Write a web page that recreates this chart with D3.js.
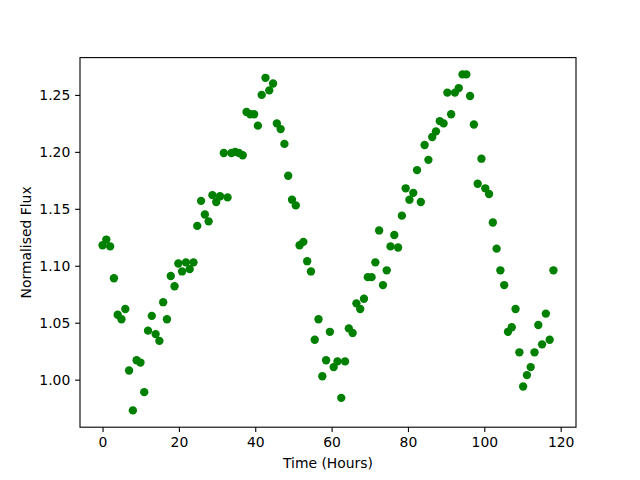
<!DOCTYPE html>
<html>
<head>
<meta charset="utf-8">
<script src="https://cdn.jsdelivr.net/npm/d3@7"></script>
<style>
  html, body { margin: 0; padding: 0; background: #fff; }
  svg text { font-family: "DejaVu Sans", sans-serif; }
</style>
</head>
<body>
<svg id="chart" width="640" height="480"></svg>
<script>
const timeHours = [
  0.00, 0.99, 1.99, 2.98, 3.97, 4.96, 5.96, 6.95, 7.94, 8.93,
  9.93, 10.92, 11.91, 12.90, 13.90, 14.89, 15.88, 16.87, 17.87, 18.86,
  19.85, 20.84, 21.84, 22.83, 23.82, 24.81, 25.81, 26.80, 27.79, 28.78,
  29.78, 30.77, 31.76, 32.75, 33.75, 34.74, 35.73, 36.72, 37.72, 38.71,
  39.70, 40.69, 41.69, 42.68, 43.67, 44.66, 45.66, 46.65, 47.64, 48.63,
  49.63, 50.62, 51.61, 52.60, 53.60, 54.59, 55.58, 56.57, 57.57, 58.56,
  59.55, 60.54, 61.54, 62.53, 63.52, 64.51, 65.51, 66.50, 67.49, 68.48,
  69.48, 70.47, 71.46, 72.45, 73.45, 74.44, 75.43, 76.42, 77.42, 78.41,
  79.40, 80.39, 81.39, 82.38, 83.37, 84.36, 85.36, 86.35, 87.34, 88.33,
  89.33, 90.32, 91.31, 92.30, 93.30, 94.29, 95.28, 96.27, 97.27, 98.26,
  99.25, 100.24, 101.24, 102.23, 103.22, 104.21, 105.21, 106.20, 107.19, 108.18,
  109.18, 110.17, 111.16, 112.15, 113.15, 114.14, 115.13, 116.12, 117.12, 118.11
];
const normalisedFlux = [
  1.118, 1.123, 1.117, 1.089, 1.057, 1.053, 1.062, 1.008, 0.973, 1.017,
  1.015, 0.989, 1.043, 1.056, 1.040, 1.034, 1.068, 1.053, 1.091, 1.082,
  1.102, 1.095, 1.103, 1.097, 1.103, 1.135, 1.157, 1.145, 1.139, 1.162,
  1.156, 1.161, 1.199, 1.160, 1.199, 1.200, 1.199, 1.197, 1.235, 1.233,
  1.233, 1.223, 1.250, 1.265, 1.254, 1.260, 1.225, 1.220, 1.207, 1.179,
  1.158, 1.153, 1.118, 1.121, 1.104, 1.095, 1.035, 1.053, 1.003, 1.017,
  1.042, 1.011, 1.016, 0.984, 1.016, 1.045, 1.041, 1.067, 1.062, 1.071,
  1.090, 1.090, 1.103, 1.131, 1.083, 1.096, 1.117, 1.127, 1.116, 1.144,
  1.168, 1.158, 1.164, 1.184, 1.156, 1.206, 1.193, 1.213, 1.218, 1.227,
  1.225, 1.252, 1.233, 1.252, 1.256, 1.268, 1.268, 1.249, 1.224, 1.172,
  1.194, 1.168, 1.163, 1.138, 1.115, 1.096, 1.083, 1.042, 1.046, 1.062,
  1.024, 0.994, 1.004, 1.011, 1.024, 1.048, 1.031, 1.058, 1.035, 1.096
];
const xTicks = [0, 20, 40, 60, 80, 100, 120];
const yTicks = [1.00, 1.05, 1.10, 1.15, 1.20, 1.25];
const xLabel = "Time (Hours)";
const yLabel = "Normalised Flux";

const mLeft = 80, mRight = 576, mTop = 57.6, mBottom = 427.2;
const svg = d3.select("#chart");

const xExt = d3.extent(timeHours), yExt = d3.extent(normalisedFlux);
const xPad = (xExt[1] - xExt[0]) * 0.05, yPad = (yExt[1] - yExt[0]) * 0.05;
const x = d3.scaleLinear().domain([xExt[0] - xPad, xExt[1] + xPad]).range([mLeft, mRight]);
const y = d3.scaleLinear().domain([yExt[0] - yPad, yExt[1] + yPad]).range([mBottom, mTop]);

const tickLen = 4.86, tickPad = 4.86;

// points
svg.append("g").selectAll("circle")
  .data(d3.zip(timeHours, normalisedFlux))
  .join("circle")
  .attr("cx", d => x(d[0]))
  .attr("cy", d => y(d[1]))
  .attr("r", 4.17)
  .attr("fill", "#008000");

// axes
const xAxis = d3.axisBottom(x).tickValues(xTicks).tickFormat(d3.format("d"))
  .tickSizeInner(tickLen).tickSizeOuter(0).tickPadding(tickPad);
const yAxis = d3.axisLeft(y).tickValues(yTicks).tickFormat(d3.format(".2f"))
  .tickSizeInner(tickLen).tickSizeOuter(0).tickPadding(tickPad);

const gx = svg.append("g").attr("transform", `translate(0,${mBottom})`).call(xAxis);
const gy = svg.append("g").attr("transform", `translate(${mLeft},0)`).call(yAxis);
[gx, gy].forEach(g => {
  g.select(".domain").remove();
  g.selectAll(".tick line").attr("stroke", "#000").attr("stroke-width", 1.1);
  g.selectAll(".tick text").attr("fill", "#000").style("font-size", "13.9px")
    .style("font-family", "'DejaVu Sans', sans-serif");
});

// frame
svg.append("rect")
  .attr("x", mLeft).attr("y", mTop)
  .attr("width", mRight - mLeft).attr("height", mBottom - mTop)
  .attr("fill", "none").attr("stroke", "#000").attr("stroke-width", 1.1);

// labels
svg.append("text")
  .attr("x", (mLeft + mRight) / 2).attr("y", 468)
  .attr("text-anchor", "middle").style("font-size", "13.9px").attr("fill", "#000")
  .text(xLabel);
svg.append("text")
  .attr("transform", `translate(31,${(mTop + mBottom) / 2}) rotate(-90)`)
  .attr("text-anchor", "middle").style("font-size", "13.9px").attr("fill", "#000")
  .text(yLabel);
</script>
</body>
</html>
